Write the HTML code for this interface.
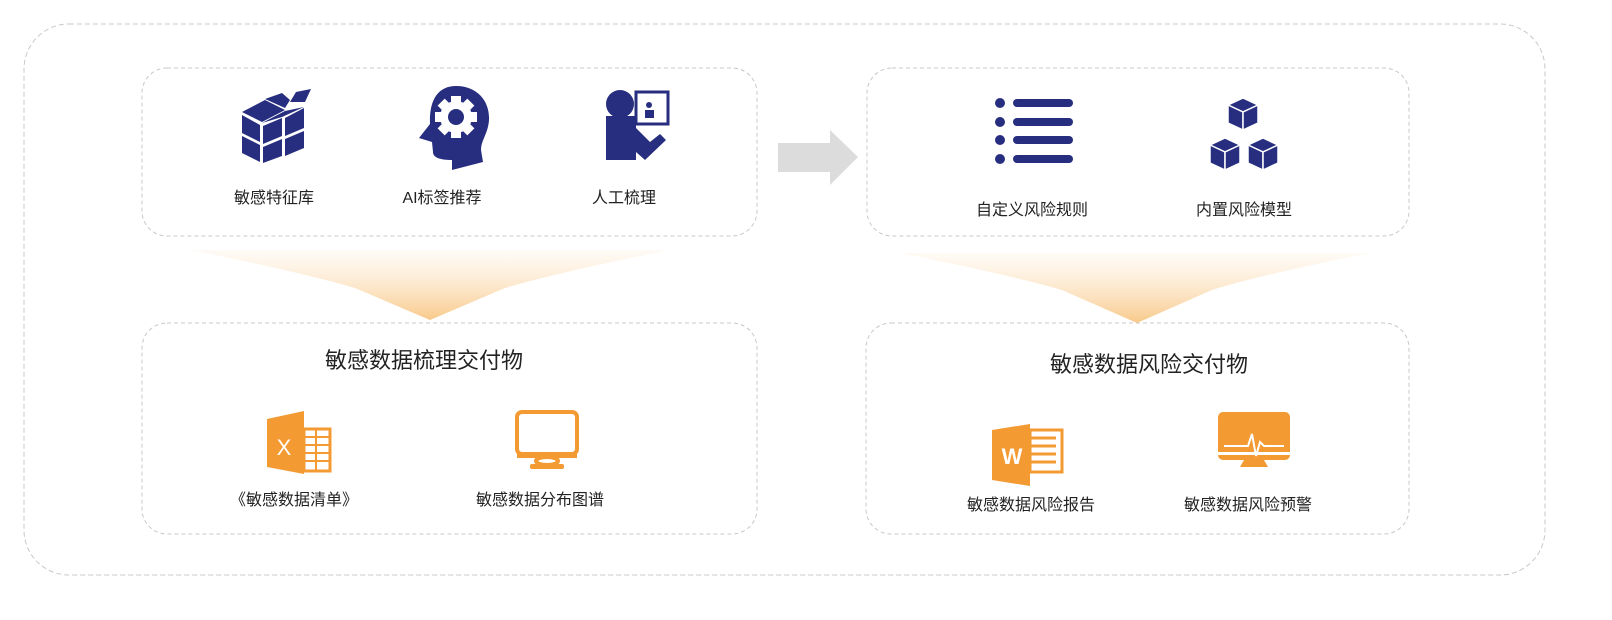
<!DOCTYPE html>
<html><head><meta charset="utf-8"><style>
html,body{margin:0;padding:0;background:#fff;}
text{font-family:"Liberation Sans","Noto Sans CJK SC",sans-serif;fill:#222;}
</style></head><body>
<svg width="1612" height="615" viewBox="0 0 1612 615" xmlns="http://www.w3.org/2000/svg">
<defs>
<linearGradient id="og" x1="0" y1="0" x2="0" y2="1">
<stop offset="0" stop-color="#fde9cf" stop-opacity="0.2"/>
<stop offset="1" stop-color="#f8c98a"/>
</linearGradient>
<g id="cube">
<polygon points="0,-10 15,-3 0,4 -15,-3" fill="#272e7f" stroke="#fff" stroke-width="1.5"/>
<polygon points="-15,-3 0,4 0,22 -15,15" fill="#272e7f" stroke="#fff" stroke-width="1.5"/>
<polygon points="15,-3 0,4 0,22 15,15" fill="#272e7f" stroke="#fff" stroke-width="1.5"/>
</g>
</defs>
<rect x="24" y="24" width="1521" height="551" rx="45" fill="none" stroke="#c8c8c8" stroke-dasharray="5,3"/>
<rect x="142" y="68" width="615" height="168" rx="25" fill="none" stroke="#c8c8c8" stroke-dasharray="4,3"/>
<rect x="142" y="323" width="615" height="211" rx="25" fill="none" stroke="#c8c8c8" stroke-dasharray="4,3"/>
<rect x="867" y="68" width="542" height="168" rx="25" fill="none" stroke="#c8c8c8" stroke-dasharray="4,3"/>
<rect x="866" y="323" width="543" height="211" rx="25" fill="none" stroke="#c8c8c8" stroke-dasharray="4,3"/>

<polygon points="778,143 830,143 830,130 858,157 830,185 830,172 778,172" fill="#dcdcdc"/>

<path d="M190,250 L670,250 Q560,272 505,288 L430,320 L355,288 Q300,272 190,250 Z" fill="url(#og)"/>
<path d="M900,253 L1370,253 Q1260,275 1212,290 L1137,323 L1062,290 Q1010,275 900,253 Z" fill="url(#og)"/>

<!-- cube icon -->
<g fill="#272e7f">
<polygon points="242,112 265,100 285,110 262,122"/>
<polygon points="265,99 282,93 290,100 285,108"/>
<polygon points="296,92 311,89 305,102 290,102"/>
<polygon points="242,115 260,125 260,142 242,133"/>
<polygon points="242,136 260,145 260,162 242,153"/>
<polygon points="263,126 282,118 282,136 263,144"/>
<polygon points="263,147 282,139 282,156 263,163"/>
<polygon points="285,118 304,108 304,128 285,136"/>
<polygon points="285,139 304,131 304,148 285,156"/>
<polygon points="262,123 285,111 304,107 282,117"/>
</g>
<!-- head gear icon -->
<g>
<path d="M456,86 C478,86 490,102 489,120 C488,134 481,140 481,150 L483,162 L452,170 L452,160 C441,160 433,158 433,152 L432,142 L419,138 L430,124 C429,100 438,86 456,86 Z" fill="#272e7f"/>
<g fill="#fff"><circle cx="456" cy="117" r="16"/><rect x="451" y="96" width="10" height="42"/><rect x="435" y="112" width="42" height="10"/>
<rect x="451" y="96" width="10" height="42" transform="rotate(45 456 117)"/><rect x="451" y="96" width="10" height="42" transform="rotate(-45 456 117)"/></g>
<circle cx="456" cy="117" r="8" fill="#272e7f"/>
</g>
<!-- person board -->
<g fill="#272e7f">
<circle cx="620" cy="104" r="14"/>
<path d="M606,116 L636,116 L636,128 L650,142 L660,134 L666,140 L645,160 L636,152 L636,160 L606,160 Z"/>
<rect x="636" y="92" width="32" height="32" fill="none" stroke="#272e7f" stroke-width="3"/>
<circle cx="649" cy="105" r="3"/><rect x="645" y="110" width="9" height="8"/>
</g>

<!-- list icon -->
<g fill="#272e7f">
<circle cx="1000" cy="103" r="5"/><circle cx="1000" cy="122" r="5"/><circle cx="1000" cy="140" r="5"/><circle cx="1000" cy="159" r="5"/>
<rect x="1013" y="99" width="60" height="8" rx="4"/><rect x="1013" y="118" width="60" height="8" rx="4"/><rect x="1013" y="136" width="60" height="8" rx="4"/><rect x="1013" y="155" width="60" height="8" rx="4"/>
</g>
<!-- cubes icon -->
<use href="#cube" x="1243" y="108"/>
<use href="#cube" x="1225" y="148"/>
<use href="#cube" x="1263" y="148"/>

<!-- excel -->
<g>
<polygon points="267,419 304,411 304,474 267,467" fill="#f39a32"/>
<rect x="304" y="429" width="26" height="42" fill="#fff" stroke="#f39a32" stroke-width="3"/>
<g stroke="#f39a32" stroke-width="2"><line x1="304" y1="437" x2="330" y2="437"/><line x1="304" y1="445" x2="330" y2="445"/><line x1="304" y1="453" x2="330" y2="453"/><line x1="304" y1="461" x2="330" y2="461"/><line x1="316" y1="429" x2="316" y2="471"/></g>
<text x="284" y="455" font-size="22" style="fill:#fff" text-anchor="middle">X</text>
</g>
<!-- monitor -->
<g fill="none" stroke="#f39a32" stroke-width="4">
<rect x="517" y="412" width="60" height="42" rx="5"/>
<ellipse cx="547" cy="461" rx="11" ry="4"/>
</g>
<rect x="517" y="454" width="60" height="4" fill="#f39a32"/>
<rect x="530" y="464" width="34" height="5" rx="2" fill="#f39a32"/>

<!-- word -->
<g>
<polygon points="992,430 1030,424 1030,486 992,480" fill="#f39a32"/>
<rect x="1030" y="430" width="32" height="42" fill="#fff" stroke="#f39a32" stroke-width="3"/>
<g stroke="#f39a32" stroke-width="3"><line x1="1030" y1="438" x2="1056" y2="438"/><line x1="1030" y1="446" x2="1056" y2="446"/><line x1="1030" y1="454" x2="1056" y2="454"/><line x1="1030" y1="462" x2="1056" y2="462"/></g>
<text x="1012" y="464" font-size="22" font-weight="bold" style="fill:#fff" text-anchor="middle">W</text>
</g>
<!-- monitor alert -->
<g>
<rect x="1218" y="412" width="72" height="48" rx="5" fill="#f39a32"/>
<polyline points="1224,446 1248,446 1252,434 1256,456 1260,442 1264,446 1284,446" fill="none" stroke="#fff" stroke-width="2"/>
<rect x="1218" y="452" width="72" height="3" fill="#fff"/>
<polygon points="1244,460 1264,460 1268,467 1240,467" fill="#f39a32"/>
</g>

<g font-size="16">
<text x="274" y="203" text-anchor="middle">敏感特征库</text>
<text x="442" y="203" text-anchor="middle">AI标签推荐</text>
<text x="624" y="203" text-anchor="middle">人工梳理</text>
<text x="1032" y="215" text-anchor="middle">自定义风险规则</text>
<text x="1244" y="215" text-anchor="middle">内置风险模型</text>
<text x="294" y="505" text-anchor="middle">《敏感数据清单》</text>
<text x="540" y="505" text-anchor="middle">敏感数据分布图谱</text>
<text x="1031" y="510" text-anchor="middle">敏感数据风险报告</text>
<text x="1248" y="510" text-anchor="middle">敏感数据风险预警</text>
</g>
<text x="424" y="368" font-size="22" text-anchor="middle">敏感数据梳理交付物</text>
<text x="1149" y="372" font-size="22" text-anchor="middle">敏感数据风险交付物</text>
</svg>
</body></html>
